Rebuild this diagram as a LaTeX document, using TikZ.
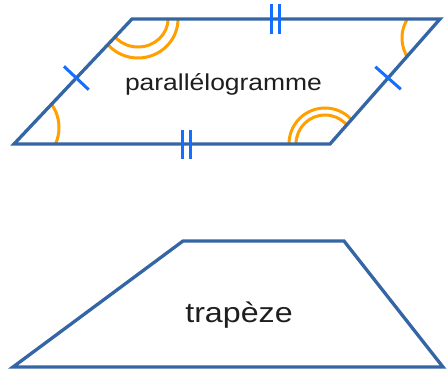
\documentclass[tikz,border=0pt]{standalone}
\usepackage{fontspec}
\setmainfont{Liberation Sans}
\usepackage{graphicx}
\usetikzlibrary{calc}

\definecolor{edgeblue}{RGB}{52,101,164}
\definecolor{tickblue}{RGB}{20,110,255}
\definecolor{angleorange}{RGB}{255,160,0}
\definecolor{namegray}{RGB}{30,30,30}

\tikzset{
  edge/.style={draw=edgeblue, line width=3.3pt},
  tickmark/.style={draw=tickblue, line width=3pt},
  anglemark/.style={draw=angleorange, line width=3pt},
  shapename/.style={text=namegray, inner sep=0pt, anchor=base}
}

\begin{document}
\begin{tikzpicture}[x=1pt,y=1pt]
\useasboundingbox (0,0) rectangle (447,376);

% parallelogramme
\coordinate (pA) at (14,232);
\coordinate (pB) at (330,232);
\coordinate (pC) at (440,357);
\coordinate (pD) at (132,357);

\begin{scope}
\clip (pA) -- (pB) -- (pC) -- (pD) -- cycle;
\draw[anglemark] (19,248.4) circle (40);
\draw[anglemark] (138,357) ellipse (30 and 28);
\draw[anglemark] (138,357) ellipse (40 and 39);
\draw[anglemark] (438,338) circle (36);
\draw[anglemark] (325,232) circle (29);
\draw[anglemark] (325,232) circle (36);
\end{scope}

\draw[edge] (pA) -- (pB) -- (pC) -- (pD) -- cycle;

\coordinate (mAD) at ($(pA)!0.528!(pD)$);
\coordinate (mBC) at ($(pB)!0.528!(pC)$);
\coordinate (mAB) at ($(pA)!0.546!(pB)$);
\coordinate (mDC) at ($(pD)!0.465!(pC)$);

\draw[tickmark] ($(mAD)!17pt!90:(pD)$) -- ($(mAD)!17pt!-90:(pD)$);
\draw[tickmark] ($(mBC)!17pt!90:(pC)$) -- ($(mBC)!17pt!-90:(pC)$);
\foreach \dx in {-4,4} {
  \draw[tickmark] ($(mAB)+(\dx,-14.5)$) -- ($(mAB)+(\dx,14.5)$);
  \draw[tickmark] ($(mDC)+(\dx,-14.5)$) -- ($(mDC)+(\dx,14.5)$);
}

\node[shapename, font=\fontsize{23}{27}\selectfont] (pname) at (223.5,286)
  {\scalebox{1.15}[1]{parallélogramme}};

% trapeze
\coordinate (tA) at (13,9);
\coordinate (tB) at (443,9);
\coordinate (tC) at (344,135);
\coordinate (tD) at (183,135);

\draw[edge] (tA) -- (tB) -- (tC) -- (tD) -- cycle;

\node[shapename, font=\fontsize{28}{32}\selectfont] (tname) at (239,54)
  {\scalebox{1.15}[1]{trapèze}};

\end{tikzpicture}
\end{document}
